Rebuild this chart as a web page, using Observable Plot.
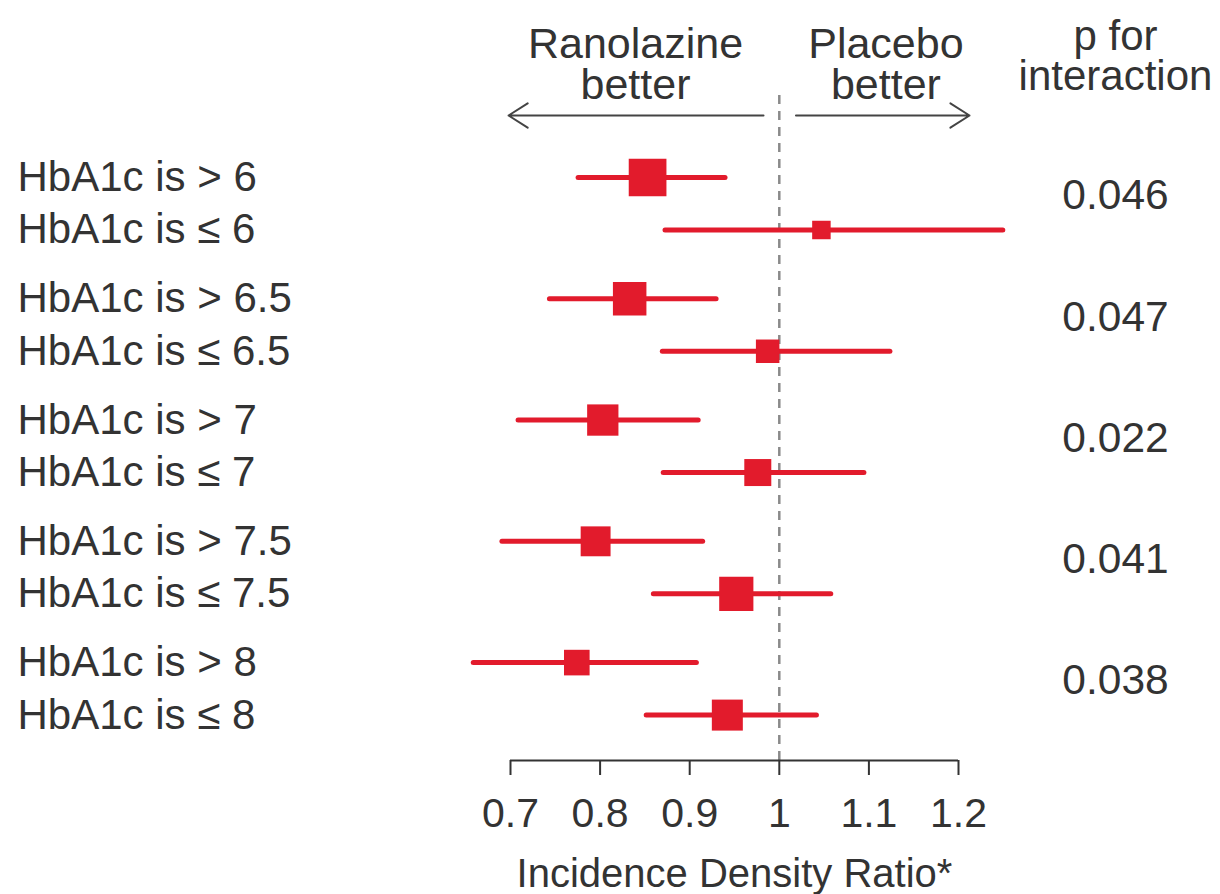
<!DOCTYPE html>
<html><head><meta charset="utf-8">
<script src="https://cdn.jsdelivr.net/npm/d3@7"></script>
<script src="https://cdn.jsdelivr.net/npm/@observablehq/plot@0.6"></script>
<style>html,body{margin:0;padding:0;background:#fff}</style>
</head><body><div id="chart"></div>
<script>
// ---- data ----
const rowLabels = ["HbA1c is > 6","HbA1c is \u2264 6","HbA1c is > 6.5","HbA1c is \u2264 6.5","HbA1c is > 7","HbA1c is \u2264 7","HbA1c is > 7.5","HbA1c is \u2264 7.5","HbA1c is > 8","HbA1c is \u2264 8"];
const estimates = [0.853,1.047,0.833,0.987,0.803,0.976,0.795,0.952,0.774,0.942];
const lower     = [0.776,0.873,0.744,0.870,0.709,0.871,0.691,0.860,0.659,0.852];
const upper     = [0.940,1.250,0.930,1.124,0.910,1.095,0.915,1.058,0.908,1.042];
const weights   = [3.77,1.85,3.35,2.35,3.13,2.70,2.99,3.42,2.56,3.10];
const pValues   = ["0.046","0.047","0.022","0.041","0.038"];
const tickValues = [0.7,0.8,0.9,1,1.1,1.2];
const tickLabels = ["0.7","0.8","0.9","1","1.1","1.2"];
const sideHeaders = ["Ranolazine\nbetter","Placebo\nbetter"];
const pHeader = "p for\ninteraction";
const axisTitle = "Incidence Density Ratio*";

// ---- layout (annotation anchors, in scale units) ----
const GROUP = 2.31;                 // row pitch between pairs
const yTop = -(177-95)/52.5, yBottom = (760-177)/52.5;
const sideHeaderX = [0.8395, 1.119];
const pColumnX = 1.3752;
const arrowY = (115-177)/52.5;
const arrows = [{x1:0.9824,x2:0.6978},{x1:1.0186,x2:1.2123}];
const RED = "#e21b2c";
const INK = "#333333";

const rows = rowLabels.map((label,i)=>({label, est:estimates[i], lo:lower[i], hi:upper[i], w:weights[i], pos:Math.floor(i/2)*GROUP + (i%2)}));
const groups = pValues.map((p,g)=>({p, pos:g*GROUP+0.5}));
const headers = sideHeaders.map((text,i)=>({text, x:sideHeaderX[i]}));

const chart = Plot.plot({
  width:1220, height:894,
  marginLeft:510, marginRight:262, marginTop:95, marginBottom:134,
  style:{fontFamily:"'Liberation Sans', Arial, sans-serif", fontSize:"41px", color:INK, background:"#fff"},
  x:{domain:[0.7,1.2]},
  y:{domain:[yTop,yBottom], reverse:true, axis:null},
  r:{type:"linear", domain:[0,4], range:[0,40/Math.sqrt(Math.PI)]},
  marks:[
    Plot.ruleX([1], {stroke:"#8a8a8a", strokeWidth:2.5, strokeDasharray:"9,7"}),
    Plot.ruleY([yBottom], {stroke:INK, strokeWidth:2}),
    Plot.axisX({ticks:tickValues, tickFormat:d=>tickLabels[tickValues.indexOf(d)], tickSize:15, tickPadding:22, strokeWidth:2, label:null}),
    Plot.ruleY(rows, {y:"pos", x1:"lo", x2:"hi", stroke:RED, strokeWidth:5, strokeLinecap:"round"}),
    Plot.dot(rows, {x:"est", y:"pos", r:"w", symbol:"square", fill:RED, stroke:"none"}),
    Plot.text(rows, {y:"pos", text:"label", frameAnchor:"left", dx:-493, textAnchor:"start", fill:INK, fontSize:42}),
    Plot.text(groups, {y:"pos", x:pColumnX, text:"p", dy:-8, fill:INK, fontSize:42.5}),
    Plot.text(headers, {x:"x", text:"text", frameAnchor:"top", lineAnchor:"middle", dy:-30, lineHeight:0.95, fill:INK, fontSize:43}),
    Plot.text([pHeader], {x:pColumnX, text:d=>d, frameAnchor:"top", lineAnchor:"middle", dy:-38, lineHeight:0.95, fill:INK, fontSize:42}),
    Plot.arrow(arrows, {x1:"x1", x2:"x2", y1:arrowY, y2:arrowY, stroke:"#444", strokeWidth:2, headLength:17, headAngle:65}),
    Plot.text([axisTitle], {frameAnchor:"bottom", lineAnchor:"middle", text:d=>d, dy:114, fill:INK, fontSize:40})
  ]
});
document.getElementById("chart").appendChild(chart);
</script>
</body></html>
